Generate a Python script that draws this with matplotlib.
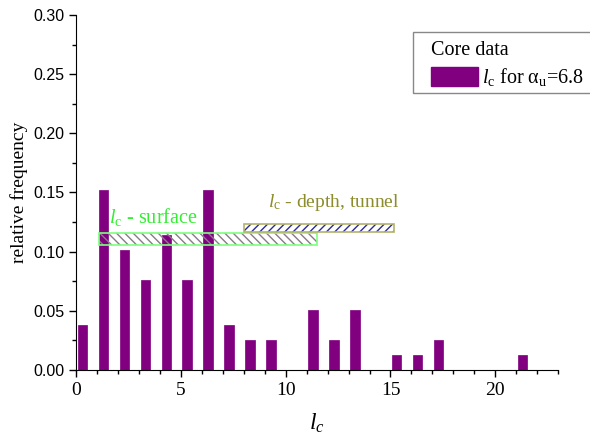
import numpy as np
import matplotlib.pyplot as plt
from matplotlib.patches import Rectangle, Patch

# histogram of l_c (core data), bins centred at i + 0.3
lc_pos = np.arange(22) + 0.3
rel_freq = [0.038, 0.152, 0.101, 0.076, 0.114, 0.076, 0.152, 0.038, 0.025, 0.025,
            0.0, 0.051, 0.025, 0.051, 0.0, 0.0127, 0.0127, 0.025, 0.0, 0.0, 0.0, 0.0127]

# ranges shown as hatched bands: (x0, x1, y0, y1)
surface_band = [1.1, 11.5, 0.106, 0.1155]
depth_band = [8.0, 15.15, 0.1165, 0.1238]

plt.rcParams['mathtext.fontset'] = 'custom'
plt.rcParams['mathtext.rm'] = 'Liberation Serif'
plt.rcParams['mathtext.it'] = 'Liberation Serif:italic'
plt.rcParams['hatch.linewidth'] = 1.0

serif = 'Liberation Serif'
sans = 'Liberation Sans'
purple = '#800080'

fig = plt.figure(figsize=(5.9, 4.4), dpi=100)
ax = fig.add_axes([0.129, 0.159, 0.817, 0.807])

ax.bar(lc_pos, rel_freq, width=0.45, color=purple, edgecolor=purple, linewidth=0.5)

# bands: hatch layer + outline layer
def band(b, hatch, hcol, ecol):
    x0, x1, y0, y1 = b
    ax.add_patch(Rectangle((x0, y0), x1 - x0, y1 - y0, fill=False, hatch=hatch,
                           edgecolor=hcol, linewidth=0, zorder=3))
    ax.add_patch(Rectangle((x0, y0), x1 - x0, y1 - y0, fill=False,
                           edgecolor=ecol, linewidth=1.2, zorder=4))

band(surface_band, '\\\\\\\\', '#8a7a8a', '#7dff7d')
band(depth_band, '////', '#2b2b9a', '#b3b36b')

ax.text(1.55, 0.1245, r'$l_\mathrm{c}$ - surface', color='#33ee33', fontsize=14.5, family=serif)
ax.text(9.15, 0.1375, r'$l_\mathrm{c}$ - depth, tunnel', color='#8c8c2a', fontsize=14, family=serif)

ax.set_xlim(0, 23)
ax.set_ylim(0, 0.30)
ax.set_xticks([0, 5, 10, 15, 20])
ax.set_xticks(np.arange(0, 24, 1), minor=True)
ax.set_yticks(np.arange(0, 0.31, 0.05))
ax.set_yticks(np.arange(0, 0.31, 0.025), minor=True)
ax.set_yticklabels(['%.2f' % v for v in np.arange(0, 0.31, 0.05)], family=sans, fontsize=11.5)
ax.set_xticklabels(['0', '5', '10', '15', '20'], family=serif, fontsize=14)
ax.tick_params(which='major', length=5, width=1, direction='out')
ax.tick_params(which='minor', length=3, width=1, direction='out')

ax.spines['top'].set_visible(False)
ax.spines['right'].set_visible(False)

ax.set_xlabel(r'$l_c$', fontsize=17, labelpad=9)
ax.set_ylabel('relative frequency', family=serif, fontsize=14, labelpad=4)

# legend box runs past the right edge of the figure
fig.patches.append(Rectangle((0.700, 1 - 93 / 440), 0.4, 61 / 440, transform=fig.transFigure,
                             fill=False, edgecolor='#888888', linewidth=1.0))
handle = Patch(facecolor=purple, edgecolor=purple)
leg = fig.legend([handle], [r'$l_\mathrm{c}$ for $\mathrm{\alpha}_\mathrm{u}$=6.8'],
                 title='Core data', loc='upper left', bbox_to_anchor=(431 / 590, 1 - 41 / 440),
                 borderaxespad=0, frameon=False,
                 prop={'family': serif, 'size': 14.5},
                 title_fontproperties={'family': serif, 'size': 14.5},
                 handlelength=2.35, handleheight=1.1, handletextpad=0.2,
                 borderpad=0, labelspacing=0.3, alignment='left')

fig.savefig('out.png', dpi=100)
